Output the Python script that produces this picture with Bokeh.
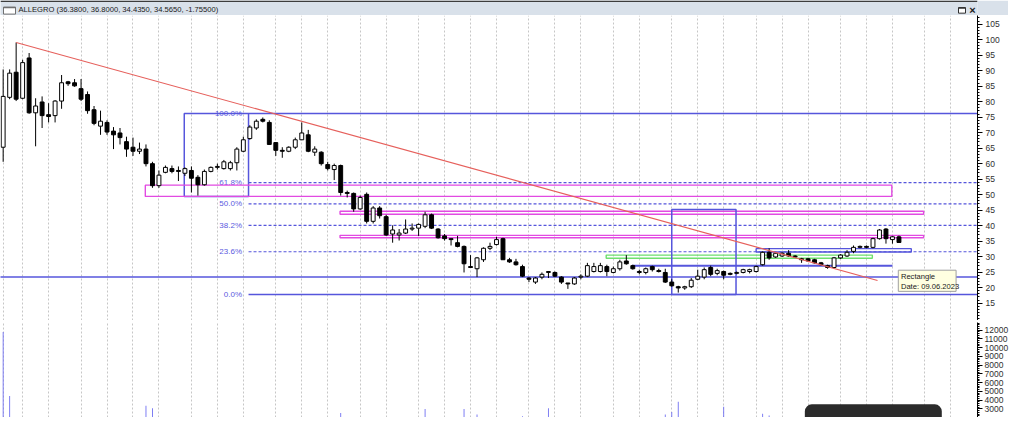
from bokeh.plotting import figure
from bokeh.layouts import column
from bokeh.models import ColumnDataSource, FixedTicker, Range1d, BoxAnnotation
from bokeh.embed import file_html
from bokeh.resources import INLINE
from bokeh.core.properties import value

FONT = "Liberation Sans"

title_text = "ALLEGRO (36.3800, 36.8000, 34.4350, 34.5650, -1.75500)"

# weekly candles (index = week since listing)
opens = [65.3, 81.4, 89.5, 81.1, 94.1, 76.4, 79.9, 75.8, 75.5, 80.2,
         86.4, 86.1, 84.2, 82.3, 77.4, 72.1, 73.3, 70.5, 69.9, 67.1,
         65.3, 64.0, 64.7, 60.0, 52.9, 57.2, 58.4, 57.8, 56.9, 57.8,
         55.6, 53.2, 57.5, 58.8, 58.4, 58.4, 60.3, 64.0, 68.1, 71.5,
         74.3, 73.3, 66.8, 64.3, 64.0, 65.3, 67.7, 69.3, 63.7, 63.7,
         59.7, 58.1, 59.4, 50.7, 50.4, 45.4, 50.1, 41.4, 45.7, 42.9,
         37.3, 37.0, 37.6, 38.9, 39.2, 39.8, 43.5, 38.9, 36.7, 35.8,
         34.5, 33.3, 26.8, 26.1, 29.0, 32.7, 33.9, 35.8, 29.0, 28.3,
         26.8, 23.1, 21.8, 23.4, 24.9, 24.9, 23.4, 21.5, 21.2, 23.4,
         23.7, 25.2, 25.2, 26.8, 24.9, 26.1, 28.6, 27.1, 25.2, 24.9,
         26.8, 25.5, 24.9, 21.8, 20.3, 19.9, 20.3, 22.7, 23.4, 26.5,
         24.6, 25.2, 24.6, 24.6, 24.9, 25.2, 25.2, 27.4, 31.4, 29.9,
         30.2, 31.1, 30.2, 29.3, 29.3, 29.0, 28.0, 27.1, 26.5, 29.6,
         30.2, 31.7, 33.0, 33.3, 33.0, 35.8, 38.9, 35.5, 36.38]
highs = [90.4, 90.4, 99.1, 93.5, 95.7, 81.1, 81.7, 79.5, 80.5, 88.6,
         86.7, 87.3, 87.3, 83.3, 78.6, 77.1, 74.0, 71.8, 71.5, 68.7,
         68.4, 66.8, 66.2, 60.6, 57.8, 59.4, 59.4, 59.1, 58.8, 59.1,
         56.3, 58.1, 59.1, 60.0, 61.2, 60.9, 65.3, 68.7, 72.4, 74.3,
         74.9, 74.0, 66.8, 65.3, 65.6, 68.4, 73.3, 70.9, 65.6, 64.0,
         60.6, 60.0, 59.7, 51.3, 50.7, 49.7, 50.7, 46.3, 46.3, 43.5,
         40.1, 38.9, 42.0, 40.7, 40.7, 44.5, 43.9, 39.2, 37.3, 35.8,
         36.7, 33.6, 30.5, 29.9, 33.0, 34.5, 36.4, 36.1, 29.6, 29.3,
         27.4, 23.4, 23.4, 24.9, 25.2, 25.2, 23.7, 21.5, 23.4, 24.3,
         28.0, 28.0, 28.0, 27.4, 26.8, 29.0, 30.5, 27.4, 25.8, 26.5,
         27.1, 26.1, 26.1, 22.7, 20.6, 20.6, 23.1, 25.8, 26.5, 27.1,
         26.1, 25.5, 24.9, 25.2, 26.1, 26.1, 27.1, 31.7, 32.7, 31.4,
         31.4, 32.1, 30.5, 29.6, 29.6, 29.3, 28.3, 27.4, 29.9, 30.8,
         32.1, 33.6, 33.6, 33.6, 36.1, 38.9, 39.2, 36.7, 36.8]
lows = [60.6, 80.8, 80.2, 80.8, 76.1, 65.6, 71.5, 73.3, 73.3, 77.7,
        85.1, 84.8, 80.2, 76.1, 72.4, 69.3, 69.3, 64.7, 66.2, 62.2,
        62.5, 63.1, 59.1, 52.2, 52.2, 56.9, 56.9, 54.4, 56.0, 50.7,
        49.7, 52.9, 57.2, 58.1, 58.1, 57.8, 57.8, 63.7, 67.7, 70.9,
        73.3, 66.2, 62.5, 61.9, 63.7, 64.7, 67.7, 63.7, 62.5, 59.4,
        57.8, 54.7, 49.7, 49.1, 44.5, 45.1, 40.7, 40.7, 42.3, 36.7,
        34.5, 35.2, 37.3, 38.3, 36.7, 39.2, 38.9, 35.8, 35.2, 33.6,
        33.0, 24.9, 26.5, 23.4, 28.3, 32.1, 33.6, 29.0, 28.0, 27.1,
        23.4, 21.8, 21.2, 22.7, 23.1, 23.4, 21.2, 19.6, 20.9, 22.7,
        23.4, 24.9, 24.9, 23.7, 24.6, 25.5, 27.4, 25.8, 24.3, 24.3,
        25.2, 24.9, 21.5, 20.3, 18.4, 19.3, 19.9, 22.4, 22.7, 23.7,
        24.0, 22.7, 24.0, 24.3, 24.6, 24.6, 24.9, 27.1, 29.0, 29.6,
        29.9, 29.9, 29.6, 28.0, 28.3, 27.7, 27.1, 26.1, 26.1, 29.3,
        29.9, 31.1, 32.7, 32.7, 32.7, 35.5, 34.2, 34.2, 34.435]
closes = [81.7, 89.2, 80.8, 92.6, 76.4, 78.6, 75.5, 75.2, 80.2, 86.1,
          85.8, 85.1, 80.8, 77.1, 73.0, 73.7, 70.2, 69.3, 68.4, 64.7,
          64.0, 64.7, 60.0, 52.9, 56.3, 58.8, 57.5, 57.5, 58.4, 55.3,
          53.2, 57.5, 58.8, 59.1, 60.6, 60.3, 64.7, 67.7, 71.8, 73.7,
          73.7, 66.2, 64.3, 64.0, 65.3, 67.7, 69.9, 64.0, 64.7, 60.0,
          58.4, 59.4, 50.7, 50.4, 45.4, 49.1, 41.4, 45.7, 43.2, 37.0,
          38.6, 37.6, 38.9, 39.2, 40.4, 43.5, 39.2, 36.1, 35.8, 35.5,
          33.3, 27.7, 26.5, 29.6, 32.7, 33.3, 35.5, 29.0, 28.3, 27.4,
          23.7, 22.7, 23.1, 24.3, 25.2, 23.7, 21.8, 21.2, 23.1, 23.7,
          27.1, 26.8, 27.1, 25.2, 26.1, 28.3, 27.7, 26.1, 24.9, 26.1,
          25.8, 25.2, 21.8, 20.6, 19.9, 20.3, 22.4, 23.7, 25.8, 24.3,
          25.5, 24.0, 24.3, 24.9, 25.8, 25.8, 26.8, 31.4, 29.6, 31.1,
          31.1, 30.2, 29.9, 29.0, 28.6, 28.0, 27.4, 26.5, 29.6, 30.5,
          31.4, 33.0, 33.3, 33.0, 35.8, 38.6, 35.8, 36.4, 34.565]
weeks = list(range(len(opens)))

# first week of each month (vertical dotted grid)
month_weeks = [0, 3, 7, 12, 16, 20, 24, 29, 33, 37, 42, 46, 50, 55, 59, 64, 68,
               72, 76, 81, 85, 89, 94, 98, 103, 107, 111, 116, 120, 124, 129,
               133, 137, 142, 146]

# volume (only the bars that reach into the visible part of the panel)
vol_weeks = [0, 1, 22, 23, 52, 65, 71, 73, 80, 84, 102, 103, 104, 111, 117, 118]
vol_values = [11780, 4460, 3360, 3075, 2530, 2970, 2970, 2340, 2150, 3075,
              2340, 2640, 3800, 3250, 2450, 2230]

price_ticks = [15, 20, 25, 30, 35, 40, 45, 50, 55, 60, 65, 70, 75, 80, 85, 90, 95, 100, 105]
vol_ticks = [3000, 4000, 5000, 6000, 7000, 8000, 9000, 10000, 11000, 12000]

# drawn objects
trend_x = [2, 134.7]
trend_y = [99.1, 22.3]
fib_low = 17.8
fib_high = 76.2
fib_box_left, fib_box_right = 27.9, 37.8
fib_ratios = [0.236, 0.382, 0.5, 0.618]
box2 = (103.0, 112.9, 17.8, 45.2)          # left, right, bottom, top
zone_left = [21.9, 51.9, 51.9]
zone_right = [136.9, 141.8, 141.8]
zone_bottom = [49.44, 43.70, 36.09]
zone_top = [53.07, 44.63, 36.87]
green_zone = (92.9, 133.9, 29.48, 30.5)
blue_zone = (116.0, 139.9, 31.52, 32.58)
blue_seg = (96.9, 137.0, 27.1)
support_level = 23.45
tip_box = (137.9, 146.8, 18.8, 25.63)
tip_lines = ["Rectangle", "Date: 09.06.2023"]
tip_y = [23.6, 20.5]

BLUE = "#5656dc"
MAGENTA = "#e24ae2"
XR = Range1d(-0.41, 150.1)
X_END = 152
FW = 977
TOTAL_W = 1008
HEAD_BG = "#d9e1ea"

# ---------------- header bar ----------------
head = figure(frame_width=FW, frame_height=15, x_range=Range1d(0, FW), y_range=Range1d(16, 0),
              toolbar_location=None, output_backend="svg", min_border=0,
              min_border_right=TOTAL_W - FW,
              x_axis_location=None, y_axis_location=None,
              background_fill_color=HEAD_BG, border_fill_color=HEAD_BG,
              outline_line_color=None)
head.grid.visible = False
head.quad(left=[0], right=[FW], top=[0], bottom=[1.6], fill_color="#3c3c3c", line_color=None)
head.quad(left=[3], right=[15], top=[7], bottom=[14.5], fill_color="white", line_color="#707070", line_width=1)
head.quad(left=[3], right=[15], top=[7], bottom=[8.2], fill_color="#707070", line_color=None)
head.text(x=[18], y=[9.5], text=[title_text], text_font=value(FONT), text_font_size="7.6px",
          text_color="#202020", text_baseline="middle", text_align="left")
head.quad(left=[958], right=[965], top=[7.5], bottom=[13.5], fill_color="white", line_color="#303030", line_width=1)
head.quad(left=[958], right=[965], top=[7.5], bottom=[8.8], fill_color="#303030", line_color=None)
head.text(x=[972], y=[10.5], text=["×"], text_font=value(FONT), text_font_size="11px",
          text_font_style="bold", text_color="#202020", text_baseline="middle", text_align="center")

# ---------------- price panel ----------------
p = figure(frame_width=FW, frame_height=305, x_range=XR, y_range=Range1d(9.4, 107.8),
           toolbar_location=None, output_backend="svg", min_border=0,
           x_axis_location=None, y_axis_location="right",
           background_fill_color="white", border_fill_color="white", outline_line_color=None)
p.ygrid.visible = False
p.xgrid.ticker = FixedTicker(ticks=month_weeks)
p.xgrid.grid_line_color = "#c6c6c6"
p.xgrid.grid_line_dash = "2 2"
p.xgrid.grid_line_width = 1

ax = p.yaxis[0]
ax.ticker = FixedTicker(ticks=price_ticks, minor_ticks=list(range(10, 108)))
ax.axis_line_color = "black"
ax.major_tick_out = 5
ax.major_tick_in = 0
ax.minor_tick_out = 2
ax.minor_tick_in = 0
ax.major_label_text_font = FONT
ax.major_label_text_font_size = "8.5px"
ax.major_label_text_color = "#303030"
ax.major_label_standoff = 3

# fibonacci retracement
span = fib_high - fib_low
fib_vals = [fib_low + r * span for r in fib_ratios]
p.segment(x0=[fib_box_right] * len(fib_vals), x1=[X_END] * len(fib_vals), y0=fib_vals, y1=fib_vals,
          line_color=BLUE, line_width=1.2, line_dash="3 2")
p.segment(x0=[fib_box_right, fib_box_right], x1=[X_END, X_END], y0=[fib_high, fib_low],
          y1=[fib_high, fib_low], line_color=BLUE, line_width=1.5)
lab_vals = [fib_high] + fib_vals + [fib_low]
lab_txt = ["100.0%"] + [f"{r*100:.1f}%" for r in fib_ratios] + ["0.0%"]
p.text(x=[fib_box_right - 1.0] * len(lab_vals), y=lab_vals, text=lab_txt,
       text_font=value(FONT), text_font_size="8px", text_color="#5a5ae0",
       text_align="right", text_baseline="middle")
p.quad(left=[fib_box_left], right=[fib_box_right], bottom=[49.4], top=[fib_high],
       fill_color=None, line_color=BLUE, line_width=1.5)

# support line and other drawn levels
p.segment(x0=[XR.start - 1], x1=[X_END], y0=[support_level], y1=[support_level],
          line_color=BLUE, line_width=1.5)
p.quad(left=zone_left, right=zone_right, bottom=zone_bottom, top=zone_top,
       fill_color=None, line_color=MAGENTA, line_width=1.4)
p.quad(left=[green_zone[0]], right=[green_zone[1]], bottom=[green_zone[2]], top=[green_zone[3]],
       fill_color=None, line_color="#6ee06e", line_width=1.4)
p.quad(left=[blue_zone[0]], right=[blue_zone[1]], bottom=[blue_zone[2]], top=[blue_zone[3]],
       fill_color=None, line_color=BLUE, line_width=1.4)
p.segment(x0=[blue_seg[0]], x1=[blue_seg[1]], y0=[blue_seg[2]], y1=[blue_seg[2]],
          line_color=BLUE, line_width=2)
p.quad(left=[box2[0]], right=[box2[1]], bottom=[box2[2]], top=[box2[3]],
       fill_color=None, line_color=BLUE, line_width=1.5)

# candles
src = ColumnDataSource(dict(
    x=weeks, o=opens, h=highs, l=lows, c=closes,
    top=[max(o, c) for o, c in zip(opens, closes)],
    bottom=[min(o, c) for o, c in zip(opens, closes)],
    fill=["white" if c >= o else "black" for o, c in zip(opens, closes)],
))
p.segment(x0="x", y0="h", x1="x", y1="l", source=src, line_color="black", line_width=1)
p.vbar(x="x", width=0.6, top="top", bottom="bottom", fill_color="fill",
       line_color="black", line_width=1, source=src)

# trend line
p.line(x=trend_x, y=trend_y, line_color="#e6605c", line_width=1.2)

# tooltip
p.quad(left=[tip_box[0]], right=[tip_box[1]], bottom=[tip_box[2]], top=[tip_box[3]],
       fill_color="#ffffe1", line_color="#a0a0a0", line_width=1)
p.text(x=[tip_box[0] + 0.4] * 2, y=tip_y, text=tip_lines, text_font=value(FONT),
       text_font_size="7.6px", text_color="#202020", text_align="left", text_baseline="middle")

# ---------------- separator ----------------
sep = figure(frame_width=FW, frame_height=2, x_range=Range1d(0, 1), y_range=Range1d(0, 1),
             toolbar_location=None, output_backend="svg", min_border=0,
             min_border_right=TOTAL_W - FW,
             x_axis_location=None, y_axis_location=None,
             background_fill_color="#a8a8a8", border_fill_color="#a8a8a8", outline_line_color=None)
sep.grid.visible = False
sep.quad(left=[0], right=[1], bottom=[0], top=[1], fill_color="#a8a8a8", line_color=None)

# ---------------- volume panel ----------------
v = figure(frame_width=FW, frame_height=95, x_range=XR, y_range=Range1d(2010, 12880),
           toolbar_location=None, output_backend="svg", min_border=0,
           x_axis_location=None, y_axis_location="right",
           background_fill_color="white", border_fill_color="white", outline_line_color=None)
v.ygrid.visible = False
v.xgrid.ticker = FixedTicker(ticks=month_weeks)
v.xgrid.grid_line_color = "#c6c6c6"
v.xgrid.grid_line_dash = "2 2"
vax = v.yaxis[0]
vax.ticker = FixedTicker(ticks=vol_ticks, minor_ticks=list(range(2000, 12900, 200)))
vax.axis_line_color = "black"
vax.major_tick_out = 5
vax.major_tick_in = 0
vax.minor_tick_out = 2
vax.minor_tick_in = 0
vax.major_label_text_font = FONT
vax.major_label_text_font_size = "8.5px"
vax.major_label_text_color = "#303030"
vax.major_label_standoff = 2

v.vbar(x=vol_weeks, top=vol_values, bottom=0, width=0.14, fill_color="#7272f2", line_color=None)

# screen-recorder widget in the corner
v.add_layout(BoxAnnotation(left=123.5, right=144.6, bottom=0, top=3515, fill_color="#2b2b2b",
                           fill_alpha=1, line_color=None, border_radius=7))
v.scatter(x=[126.4, 130.0, 138.2, 142.1], y=[1800] * 4, size=12,
          marker=["square", "circle", "square", "circle"],
          fill_color=["#e6e6e6", "#2ecc40", "#9aa0b0", "#1e88ff"], line_color=None)
v.scatter(x=[133.6, 134.4], y=[1800] * 2, size=[9, 9], marker="dash", angle=1.5708,
          line_color="#eeeeee", line_width=3)

layout = column(head, p, sep, v, spacing=0)
open("out.html", "w").write(file_html(layout, INLINE))
